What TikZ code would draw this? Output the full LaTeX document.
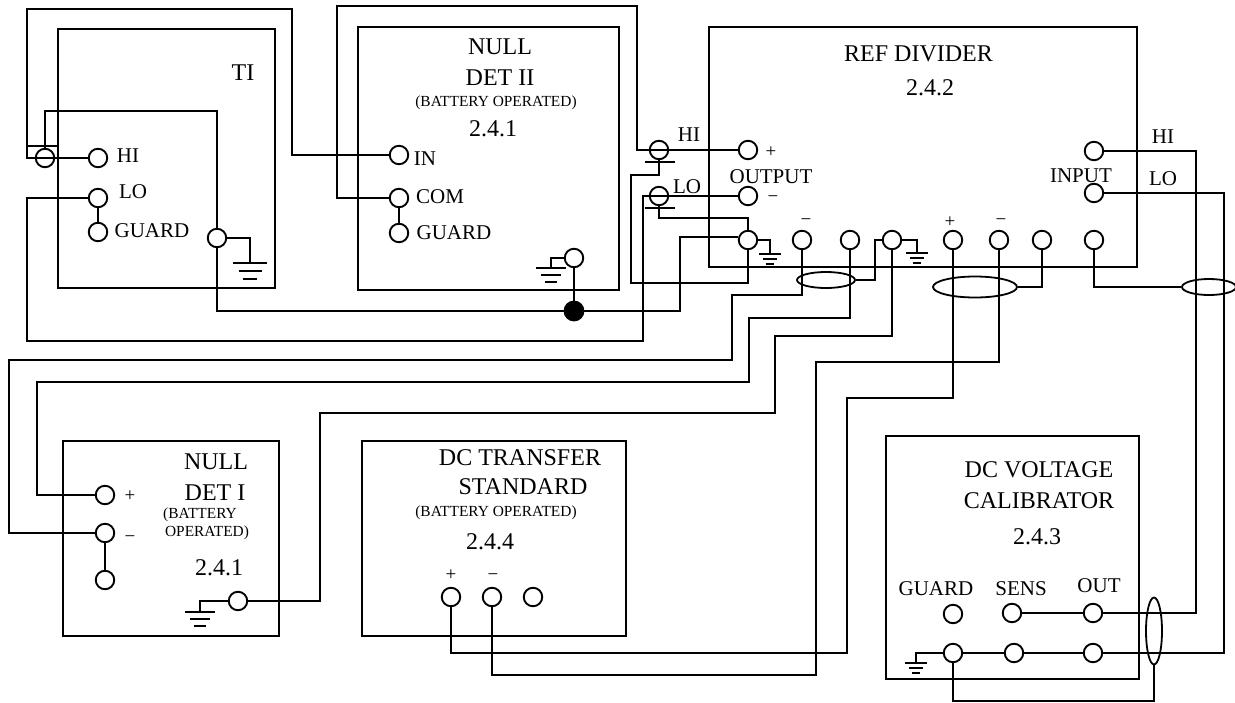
\documentclass[tikz,border=0pt]{standalone}
\usepackage{fontspec}
\setmainfont{Liberation Serif}
\usetikzlibrary{shapes.geometric}

\tikzset{
  earth/.pic={
    \draw[line width=1.8pt] (-15,0) -- (15,0);
    \draw[line width=1.8pt] (-10,7) -- (10,7);
    \draw[line width=1.8pt] (-6,14) -- (6,14);
  }
}

\begin{document}
\begin{tikzpicture}[x=1pt, y=-1pt, line width=1.8pt,
  box/.style={draw, line width=2pt},
  term/.style={draw, circle, line width=1.9pt, minimum size=18.5pt, inner sep=0pt},
  blackdot/.style={draw, circle, fill=black, minimum size=19pt, inner sep=0pt},
  loopring/.style={draw, ellipse, line width=1.8pt, inner sep=0pt},
  heading/.style={inner sep=0pt, font=\fontsize{24}{25}\selectfont},
  portlabel/.style={inner sep=0pt, font=\fontsize{21}{22}\selectfont},
  smallnote/.style={inner sep=0pt, font=\fontsize{15.4}{16}\selectfont},
  signmark/.style={inner sep=0pt, font=\fontsize{19}{20}\selectfont}]
\useasboundingbox (0,0) rectangle (1235,702);

\draw[box] (58,29) rectangle (275,288);
\draw[box] (358,27) rectangle (619,290);
\draw[box] (709,27) rectangle (1137,267);
\draw[box] (63,441) rectangle (279,636);
\draw[box] (362,441) rectangle (626,636);
\draw[box] (886,436) rectangle (1139,679);

\node[term] (tiPost) at (45,158) {};
\node[term] (tiHi) at (98,158) {};
\node[term] (tiLo) at (98,198) {};
\node[term] (tiGuard) at (98,232) {};
\node[term] (tiGnd) at (217,238) {};

\node[term] (detIn) at (399,155) {};
\node[term] (detCom) at (399,198) {};
\node[term] (detGuard) at (399,233) {};
\node[term] (detGnd) at (574,258) {};
\node[blackdot] (joint) at (574,311) {};

\node[term] (hiPost) at (659,150) {};
\node[term] (loPost) at (659,196) {};
\node[term] (refHi) at (748,150) {};
\node[term] (refLo) at (748,196) {};
\node[term] (refGnd) at (748,240) {};
\node[term] (refA) at (802,240) {};
\node[term] (refB) at (850,240) {};
\node[term] (refC) at (892,240) {};
\node[term] (refD) at (953,240) {};
\node[term] (refE) at (999,240) {};
\node[term] (refF) at (1042,240) {};
\node[term] (refG) at (1094,240) {};
\node[term] (inHi) at (1094,151) {};
\node[term] (inLo) at (1094,193) {};

\node[term] (nullPlus) at (105,495) {};
\node[term] (nullMinus) at (105,533) {};
\node[term] (nullGuard) at (105,580) {};
\node[term] (nullGnd) at (238,601) {};

\node[term] (stdPlus) at (451,597) {};
\node[term] (stdMinus) at (492,597) {};
\node[term] (stdThird) at (533,597) {};

\node[term] (calGuard) at (953,614) {};
\node[term] (calSens) at (1012,613) {};
\node[term] (calOut) at (1093,613) {};
\node[term] (calGnd) at (953,653) {};
\node[term] (calMid) at (1014,653) {};
\node[term] (calRet) at (1093,653) {};

\node[loopring, minimum width=58pt, minimum height=16pt] (ringA) at (826,280) {};
\node[loopring, minimum width=84pt, minimum height=21pt] (ringB) at (975,287) {};
\node[loopring, minimum width=54pt, minimum height=16pt] (ringC) at (1209,287) {};
\node[loopring, minimum width=16pt, minimum height=67pt] (ringD) at (1154,631) {};

\coordinate (tiEarth) at (250,263);
\coordinate (detEarth) at (551,268);
\coordinate (refEarthA) at (770,254);
\coordinate (refEarthB) at (917,253);
\coordinate (nullEarth) at (200,612);
\coordinate (calEarth) at (916,663);

\draw (tiHi) -- (27,158) -- (27,9) -- (292,9) -- (292,155) -- (detIn);
\draw (detCom) -- (337,198) -- (337,6) -- (637,6) -- (637,150) -- (refHi);
\draw (tiPost) -- (45,111) -- (217,111) -- (tiGnd);
\draw (tiLo) -- (27,198) -- (27,341) -- (643,341) -- (643,196) -- (refLo);
\draw (tiLo) -- (tiGuard);
\draw (detCom) -- (detGuard);
\draw (tiGnd) -- (217,311) -- (joint);
\draw (joint) -- (680,311) -- (680,237) -- ([yshift=3pt]refGnd.west);
\draw (detGnd) -- (joint);
\draw (hiPost) -- (659,175) -- (631,175) -- (631,283) -- (748,283) -- (refGnd);
\draw (loPost) -- (659,218) -- (748,218) -- (refGnd);
\draw (28,146) -- (58,146);
\draw (645,162) -- (675,162);
\draw (645,208) -- (675,208);

\draw (tiGnd) -- (250,238) -- (tiEarth);
\draw (detGnd) -- (551,258) -- (detEarth);
\draw (refGnd) -- (770,240) -- (refEarthA);
\draw (refC) -- (917,240) -- (refEarthB);
\draw (nullGnd) -- (200,601) -- (nullEarth);
\draw (calGnd) -- (916,653) -- (calEarth);
\pic[scale=1.15] at (tiEarth) {earth};
\pic at (detEarth) {earth};
\pic[scale=.72] at (refEarthA) {earth};
\pic[scale=.72] at (refEarthB) {earth};
\pic at (nullEarth) {earth};
\pic[scale=.72] at (calEarth) {earth};

\draw (refA) -- (802,295) -- (732,295) -- (732,360) -- (9,360) -- (9,533) -- (nullMinus);
\draw (refB) -- (850,318) -- (749,318) -- (749,382) -- (37,382) -- (37,495) -- (nullPlus);
\draw (refC) -- (892,336) -- (775,336) -- (775,413) -- (320,413) -- (320,601) -- (nullGnd);
\draw (nullMinus) -- (nullGuard);
\draw (refD) -- (953,398) -- (847,398) -- (847,653) -- (451,653) -- (stdPlus);
\draw (refE) -- (999,362) -- (816,362) -- (816,675) -- (492,675) -- (stdMinus);

\draw (ringA.east) -- (875,280) -- (875,240) -- (refC);
\draw (ringB.east) -- (1042,287) -- (refF);
\draw (refG) -- (1094,287) -- (ringC.west);
\draw (ringD.south) -- (1154,701) -- (953,701) -- (calGnd);

\draw (inHi) -- (1196,151) -- (1196,613) -- (calOut);
\draw (inLo) -- (1224,193) -- (1224,653) -- (calRet);
\draw (calSens) -- (calOut);
\draw (calGnd) -- (calMid);
\draw (calMid) -- (calRet);

\node[heading] (tiTitle) at (243,73) {TI};
\node[portlabel] (tiHiText) at (128,156) {HI};
\node[portlabel] (tiLoText) at (133,192) {LO};
\node[portlabel] (tiGuardText) at (152,231) {GUARD};

\node[heading] (detTitleA) at (500,47) {NULL};
\node[heading] (detTitleB) at (500,78) {DET II};
\node[smallnote] (detNote) at (496,103) {(BATTERY OPERATED)};
\node[heading] (detNumber) at (493,129) {2.4.1};
\node[portlabel] (detInText) at (425,159) {IN};
\node[portlabel] (detComText) at (440,197) {COM};
\node[portlabel] (detGuardText) at (454,233) {GUARD};

\node[heading] (refTitle) at (918.5,54) {REF DIVIDER};
\node[heading] (refNumber) at (930,88) {2.4.2};
\node[portlabel] (hiPostText) at (689,135) {HI};
\node[portlabel] (loPostText) at (687,187) {LO};
\node[signmark] (refHiSign) at (771,152) {+};
\node[portlabel] (outputText) at (771,177) {OUTPUT};
\node[signmark] (refLoSign) at (773,199) {−};
\node[signmark] (refASign) at (806,222) {−};
\node[signmark] (refDSign) at (950,222) {+};
\node[signmark] (refESign) at (1001,222) {−};
\node[portlabel] (inputText) at (1081,176) {INPUT};
\node[portlabel] (inHiText) at (1163,137) {HI};
\node[portlabel] (inLoText) at (1163,179) {LO};

\node[heading] (nullTitleA) at (216,462) {NULL};
\node[heading] (nullTitleB) at (215,493) {DET I};
\node[smallnote] (nullNoteA) at (200,515) {(BATTERY};
\node[smallnote] (nullNoteB) at (207,533) {OPERATED)};
\node[heading] (nullNumber) at (219,568) {2.4.1};
\node[signmark] (nullPlusSign) at (130,496) {+};
\node[signmark] (nullMinusSign) at (130,539) {−};

\node[heading] (stdTitleA) at (520,458) {DC TRANSFER};
\node[heading] (stdTitleB) at (523,487) {STANDARD};
\node[smallnote] (stdNote) at (496,513) {(BATTERY OPERATED)};
\node[heading] (stdNumber) at (490,542) {2.4.4};
\node[signmark] (stdPlusSign) at (451,575) {+};
\node[signmark] (stdMinusSign) at (493,577) {−};

\node[heading] (calTitleA) at (1039,470) {DC VOLTAGE};
\node[heading] (calTitleB) at (1039,501) {CALIBRATOR};
\node[heading] (calNumber) at (1037,537) {2.4.3};
\node[portlabel] (calGuardText) at (936,589) {GUARD};
\node[portlabel] (calSensText) at (1021,589) {SENS};
\node[portlabel] (calOutText) at (1099,586) {OUT};
\end{tikzpicture}
\end{document}
